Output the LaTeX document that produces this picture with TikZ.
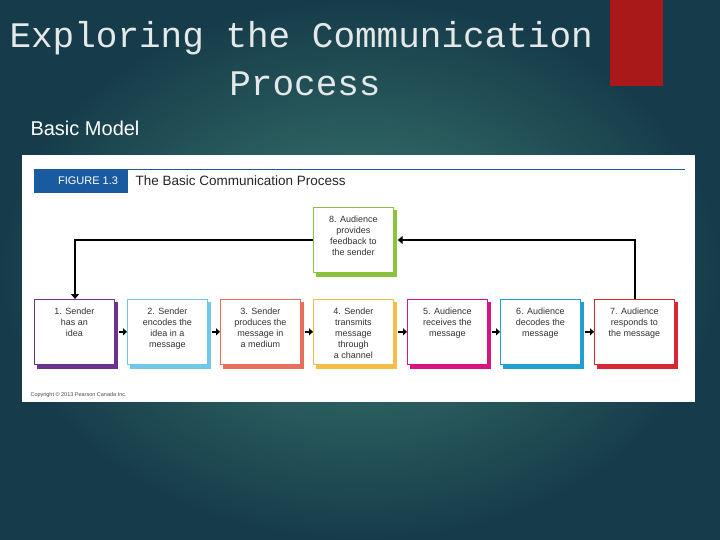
\documentclass[tikz,border=0pt]{standalone}
\usepackage{fontspec}
\setmainfont{Liberation Sans}
\newfontfamily\monof{Liberation Mono}
\usetikzlibrary{arrows.meta}
\definecolor{c1}{RGB}{110,50,140}
\definecolor{c2}{RGB}{110,200,230}
\definecolor{c3}{RGB}{230,110,90}
\definecolor{c4}{RGB}{245,190,70}
\definecolor{c5}{RGB}{215,20,130}
\definecolor{c6}{RGB}{30,160,210}
\definecolor{c7}{RGB}{215,40,50}
\definecolor{c8}{RGB}{140,195,60}
\definecolor{figblue}{RGB}{25,90,160}
\definecolor{bgin}{RGB}{62,125,112}
\definecolor{bgout}{RGB}{22,60,75}
\definecolor{titlec}{RGB}{228,232,232}
\definecolor{redbar}{RGB}{170,25,25}
\tikzset{
  pbox/.style={draw=#1, line width=0.7pt, fill=white, minimum width=80pt, minimum height=65pt, anchor=north west, inner sep=0pt},
  ptext/.style={anchor=north, align=center, font=\fontsize{9}{11}\selectfont, text=black!80, yshift=-5pt},
  flow/.style={line width=1.8pt, -{Triangle[length=4pt,width=7pt]}},
  fb/.style={line width=2pt, -{Triangle[length=5pt,width=8pt]}}
}
\begin{document}
\begin{tikzpicture}[x=1pt,y=-1pt]
\shade[inner color=bgin, outer color=bgout] (0,0) rectangle (720,540);
\useasboundingbox (0,0) rectangle (720,540);
\fill[redbar] (610,0) rectangle (663,86);
\node[anchor=west, text=titlec, font=\monof\fontsize{36}{40}\selectfont] (t1) at (6,38) {Exploring the Communication};
\node[text=titlec, font=\monof\fontsize{36}{40}\selectfont] (t2) at (305,84) {Process};
\node[anchor=west, text=white, font=\fontsize{20}{24}\selectfont] (bm) at (27,128) {Basic Model};
\fill[white] (22,155) rectangle (695,402);
\draw[figblue, line width=0.8pt] (128,169) -- (685,169);
\fill[figblue] (34,169) rectangle (128,193);
\node[text=white, font=\fontsize{11}{12}\selectfont] (fig) at (88,181) {FIGURE 1.3};
\node[anchor=west, text=black!85, font=\fontsize{13.5}{15}\selectfont] (ft) at (132,181) {The Basic Communication Process};
\node[anchor=west, font=\fontsize{5.5}{6}\selectfont, text=black!70] (cp) at (27,395) {Copyright \textcopyright\ 2013 Pearson Canada Inc.};
\foreach \n/\x/\c/\t in {b1/34/c1/{1. Sender\\has an\\idea},
  b2/127/c2/{2. Sender\\encodes the\\idea in a\\message},
  b3/220/c3/{3. Sender\\produces the\\message in\\a medium},
  b4/313/c4/{4. Sender\\transmits\\message\\through\\a channel},
  b5/407/c5/{5. Audience\\receives the\\message},
  b6/500/c6/{6. Audience\\decodes the\\message},
  b7/594/c7/{7. Audience\\responds to\\the message}}{
  \fill[\c] (\x+3,302) rectangle (\x+84,369);
  \node[pbox=\c] (\n) at (\x,299) {};
  \node[ptext] at (\n.north) {\t};
}
\fill[c8] (316,210) rectangle (397,277);
\node[pbox=c8] (b8) at (313,207) {};
\node[ptext] (b8t) at (b8.north) {8. Audience\\provides\\feedback to\\the sender};
\foreach \a/\b in {b1/b2,b2/b3,b3/b4,b4/b5,b5/b6,b6/b7}{
  \draw[flow] ([xshift=4pt]\a.east) -- (\b.west);
}
\coordinate (c7) at (635,240);
\coordinate (c1) at (75,240);
\draw[fb] ([xshift=41pt]b7.north west) |- ([xshift=4pt]b8.east |- c7);
\draw[fb] (b8.west |- c1) -| ([xshift=41pt]b1.north west);
\end{tikzpicture}
\end{document}
